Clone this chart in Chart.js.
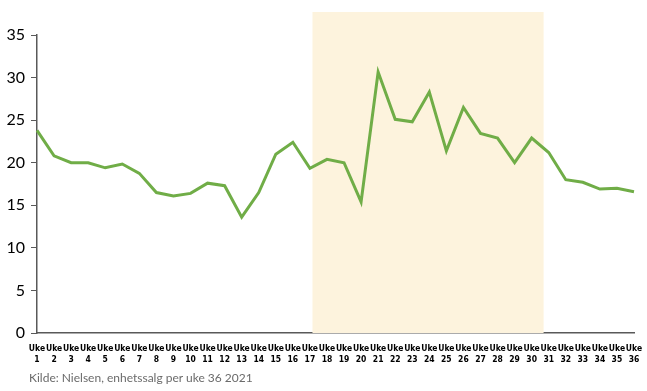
<!DOCTYPE html>
<html>
<head>
<meta charset="utf-8">
<script src="https://cdn.jsdelivr.net/npm/chart.js@4"></script>
<style>
  html, body { margin: 0; padding: 0; background: #fff; }
  #wrap { position: relative; width: 647px; height: 391px; }
  #kilde { position: absolute; left: 29px; top: 370px; font: 12px Lato, "Open Sans", sans-serif; color: #6b6b6b; }
</style>
</head>
<body>
<div id="wrap">
  <canvas id="salg" width="647" height="391"></canvas>
  <div id="kilde">Kilde: Nielsen, enhetssalg per uke 36 2021</div>
</div>
<script>
// uker og salg (enhetssalg)
var uker = [];
for (var i = 1; i <= 36; i++) { uker.push(['Uke', String(i)]); }
var salg = [23.8, 20.8, 20.0, 20.0, 19.4, 19.85, 18.75, 16.5, 16.1, 16.4, 17.6, 17.3,
            13.6, 16.5, 21.0, 22.4, 19.35, 20.4, 20.0, 15.4, 30.65, 25.1, 24.8, 28.3,
            21.4, 26.5, 23.45, 22.9, 20.0, 22.9, 21.2, 18.0, 17.7, 16.9, 17.0, 16.6];
var yTicks = [0, 5, 10, 15, 20, 25, 30, 35];
// markert periode (i ukeindeks / verdi)
var periodeFra = 16.15;
var periodeTil = 29.7;
var periodeTopp = 37.7;

var periodePlugin = {
  id: 'periode',
  beforeDatasetsDraw: function(chart) {
    var x = chart.scales.x, y = chart.scales.y, ctx = chart.ctx;
    var x0 = x.getPixelForValue(periodeFra), x1 = x.getPixelForValue(periodeTil);
    var y0 = y.getPixelForValue(periodeTopp), y1 = y.getPixelForValue(0);
    ctx.save();
    ctx.fillStyle = '#fdf3dd';
    ctx.fillRect(x0, y0, x1 - x0, y1 - y0);
    ctx.restore();
  }
};

var salgChart = new Chart(document.getElementById('salg'), {
  type: 'line',
  data: {
    labels: uker,
    datasets: [{
      data: salg,
      borderColor: '#70ad47',
      borderWidth: 3,
      pointRadius: 0,
      tension: 0
    }]
  },
  options: {
    responsive: false,
    animation: false,
    layout: { padding: { top: 35, right: 13, bottom: 28, left: 0 } },
    plugins: { legend: { display: false }, tooltip: { enabled: false } },
    scales: {
      x: {
        offset: false,
        grid: { display: false },
        border: { display: true, color: '#595959', width: 1.5 },
        ticks: {
          autoSkip: false, maxRotation: 0, padding: 2,
          color: '#000',
          font: { family: '"Liberation Sans Narrow", "DejaVu Sans Condensed", sans-serif', size: 8.5, weight: 'bold', lineHeight: 1.35 }
        },
        afterFit: function(scale) { scale.height = 30; }
      },
      y: {
        min: 0, max: 35,
        afterBuildTicks: function(scale) { scale.ticks = yTicks.map(function(v) { return { value: v }; }); },
        grid: { drawOnChartArea: false, tickLength: 6, color: '#595959' },
        border: { display: true, color: '#595959', width: 1.5 },
        ticks: {
          padding: 6, color: '#000',
          font: { family: 'Lato, "Open Sans", sans-serif', size: 16 }
        },
        afterFit: function(scale) { scale.width = 37; }
      }
    }
  },
  plugins: [periodePlugin]
});
</script>
</body>
</html>
